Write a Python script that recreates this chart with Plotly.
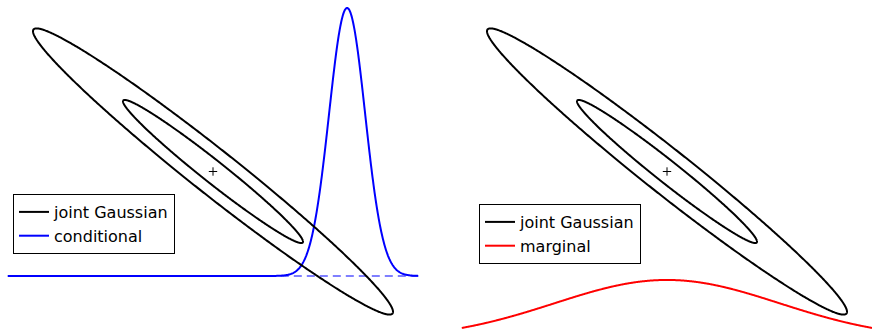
import numpy as np
import plotly.graph_objects as go

# ---- data (model parameters) ----
joint_mean = [0.0, 0.0]
joint_sd = [1.0, 0.795]          # sd of x1, sd of x2
joint_rho = -0.98                # correlation
contour_levels = [1.0, 2.0]      # Mahalanobis radii of the drawn contours

x_grid_limits = [-2.28, 2.28]

cond_level = [-1.161]            # conditioning value of x2 (baseline of conditional)
cond_mean = [1.49]
cond_sd = [0.20]
cond_height = [2.978]            # drawn peak height

marg_mean = [0.0]
marg_sd = [1.25]
marg_baseline = [-1.863]
marg_height = [0.658]

legend_left = ["joint Gaussian", "conditional"]
legend_right = ["joint Gaussian", "marginal"]

# ---- derived curves ----
S = np.array([[joint_sd[0] ** 2, joint_rho * joint_sd[0] * joint_sd[1]],
              [joint_rho * joint_sd[0] * joint_sd[1], joint_sd[1] ** 2]])
L = np.linalg.cholesky(S)
t = np.linspace(0, 2 * np.pi, 721)
circ = np.vstack([np.cos(t), np.sin(t)])
ex, ey = [], []
for r in contour_levels:
    pts = r * (L @ circ)
    ex += list(pts[0] + joint_mean[0]) + [None]
    ey += list(pts[1] + joint_mean[1]) + [None]

xs = np.linspace(x_grid_limits[0], x_grid_limits[1], 801)
cond_y = cond_level[0] + cond_height[0] * np.exp(-0.5 * ((xs - cond_mean[0]) / cond_sd[0]) ** 2)
marg_y = marg_baseline[0] + marg_height[0] * np.exp(-0.5 * ((xs - marg_mean[0]) / marg_sd[0]) ** 2)

fig = go.Figure()

# left panel
fig.add_trace(go.Scatter(x=[xs[0], xs[-1]], y=[cond_level[0]] * 2, mode="lines",
                         line=dict(color="rgba(0,0,255,0.5)", width=2, dash="8px,5px"),
                         showlegend=False, hoverinfo="skip", xaxis="x", yaxis="y"))
fig.add_trace(go.Scatter(x=xs, y=cond_y, mode="lines", name=legend_left[1],
                         line=dict(color="#0000ff", width=2, simplify=False), legend="legend",
                         legendrank=2, xaxis="x", yaxis="y"))
fig.add_trace(go.Scatter(x=ex, y=ey, mode="lines", name=legend_left[0],
                         line=dict(color="black", width=2, simplify=False), legend="legend",
                         legendrank=1, xaxis="x", yaxis="y"))
fig.add_trace(go.Scatter(x=[joint_mean[0]], y=[joint_mean[1]], mode="markers",
                         marker=dict(symbol="cross-thin", size=6, line=dict(color="black", width=1)),
                         showlegend=False, xaxis="x", yaxis="y"))

# right panel
fig.add_trace(go.Scatter(x=xs, y=marg_y, mode="lines", name=legend_right[1],
                         line=dict(color="#ff0000", width=2, simplify=False), legend="legend2",
                         legendrank=2, xaxis="x2", yaxis="y2"))
fig.add_trace(go.Scatter(x=ex, y=ey, mode="lines", name=legend_right[0],
                         line=dict(color="black", width=2, simplify=False), legend="legend2",
                         legendrank=1, xaxis="x2", yaxis="y2"))
fig.add_trace(go.Scatter(x=[joint_mean[0]], y=[joint_mean[1]], mode="markers",
                         marker=dict(symbol="cross-thin", size=6, line=dict(color="black", width=1)),
                         showlegend=False, xaxis="x2", yaxis="y2"))

ax = dict(visible=False, showgrid=False, zeroline=False, fixedrange=True)
yr = [(171.5 - 329) / 90, 171.5 / 90]
leg_common = dict(bgcolor="white", bordercolor="black", borderwidth=1,
                  font=dict(family="DejaVu Sans", size=16, color="black"),
                  xanchor="left", yanchor="top", tracegroupgap=0, itemwidth=30)
fig.update_layout(
    width=872, height=329,
    margin=dict(l=0, r=0, t=0, b=0),
    paper_bgcolor="white", plot_bgcolor="white",
    xaxis=dict(domain=[0, 0.5], range=[-213 / 90, 223 / 90], **ax),
    yaxis=dict(domain=[0, 1], range=yr, **ax),
    xaxis2=dict(domain=[0.5, 1], range=[-231 / 90, 205 / 90], **ax),
    yaxis2=dict(domain=[0, 1], range=yr, anchor="x2", **ax),
    legend=dict(x=13 / 872, y=1 - 194 / 329, **leg_common),
    legend2=dict(x=479 / 872, y=1 - 204 / 329, **leg_common),
)

fig.write_html("out.html", config={"displayModeBar": False},
               post_script="document.body.style.margin='0';document.body.style.overflow='hidden';")
